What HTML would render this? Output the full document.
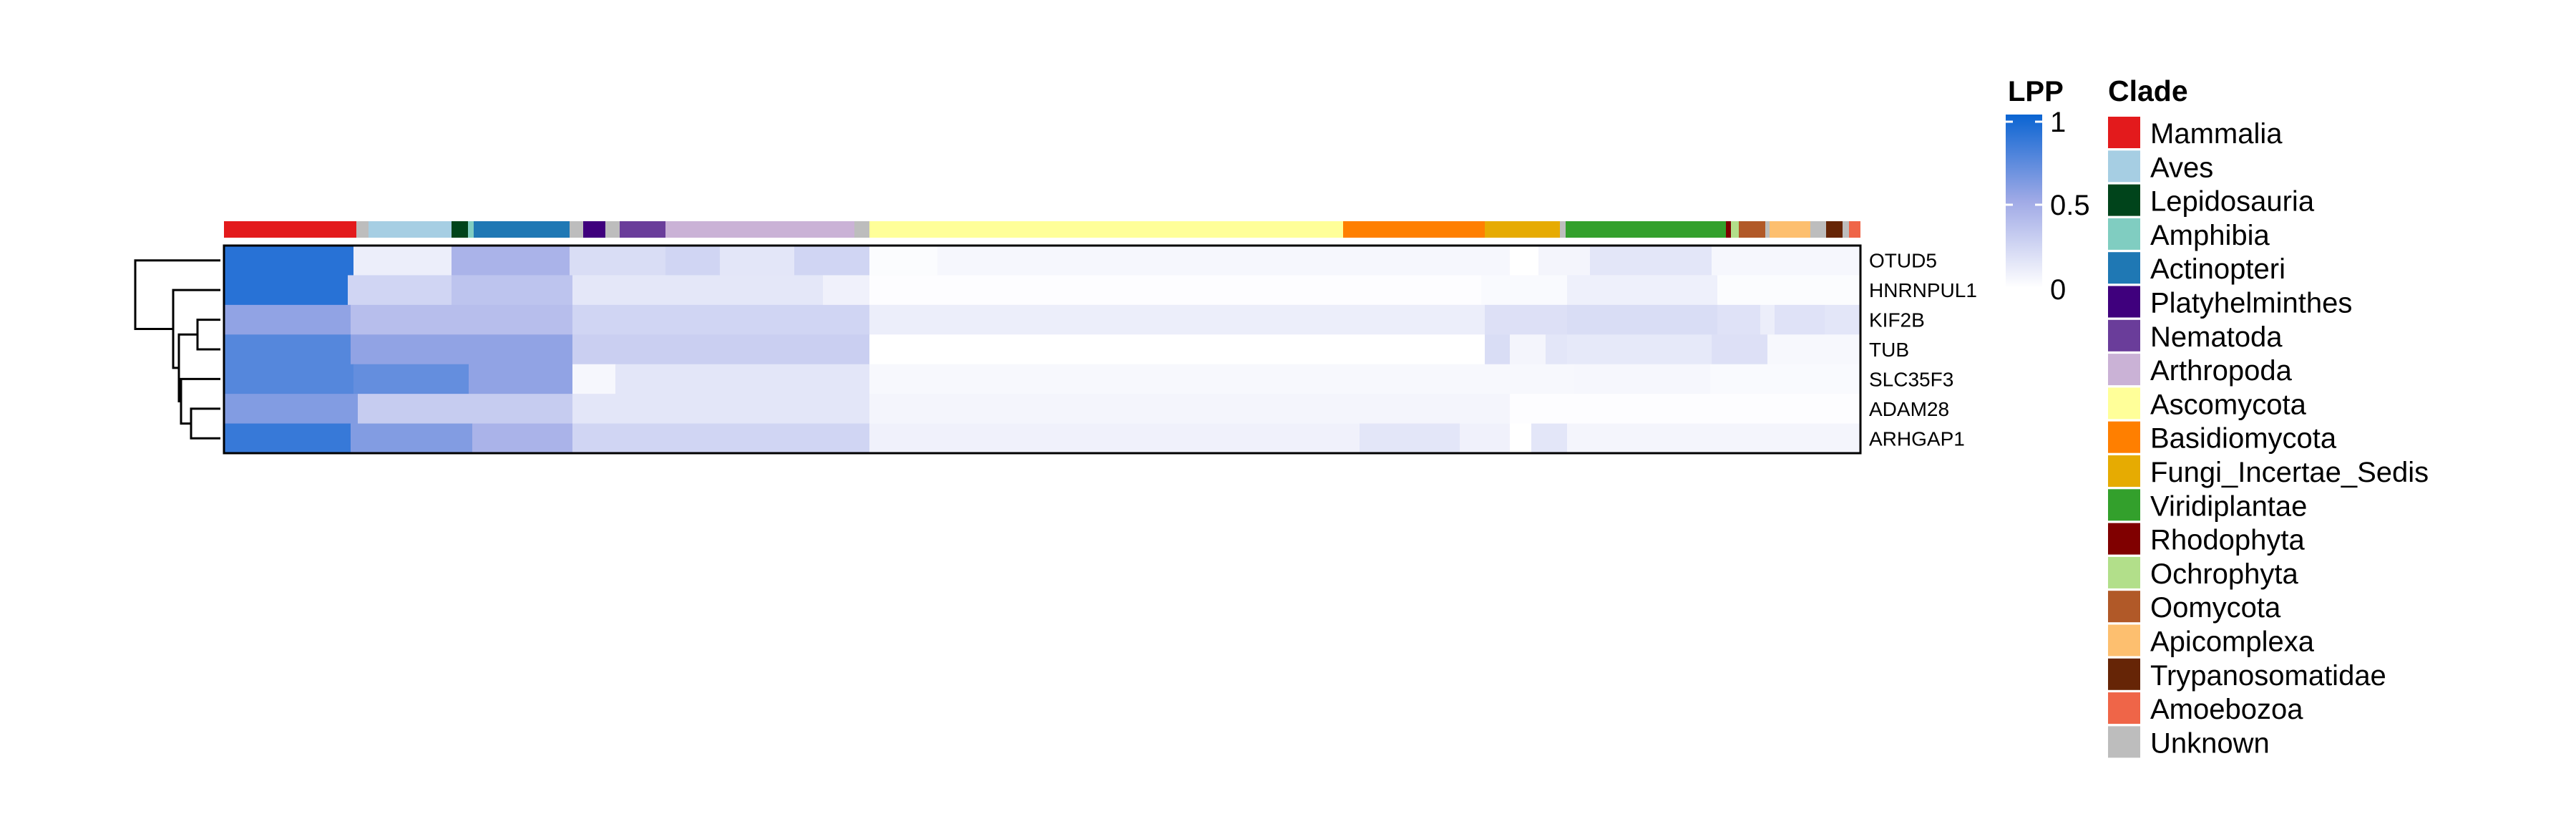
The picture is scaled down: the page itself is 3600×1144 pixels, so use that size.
<!DOCTYPE html>
<html><head><meta charset="utf-8">
<style>
html,body{margin:0;padding:0;background:#fff;}
svg{display:block;font-family:"Liberation Sans",Arial,sans-serif;}
</style></head>
<body>
<svg id="chart" width="3600" height="1144" viewBox="0 0 3600 1144" xmlns="http://www.w3.org/2000/svg">
  <g id="annot"></g>
  <g id="heat"></g>
  <rect x="313" y="343" width="2287" height="290" fill="none" stroke="#000" stroke-width="3"/>
  <g id="dendro" stroke="#000" stroke-width="3" fill="none"></g>
  <g id="rowlabels"></g>
  <g id="lpplegend">
    <defs>
      <linearGradient id="lppgrad" x1="0" y1="1" x2="0" y2="0">
        <stop offset="0" stop-color="#ffffff"/>
        <stop offset="0.5" stop-color="#a0aae6"/>
        <stop offset="1" stop-color="#0a64d2"/>
      </linearGradient>
    </defs>
    <text x="2806" y="141" font-size="40" font-weight="bold">LPP</text>
    <rect x="2803" y="160" width="51" height="242" fill="url(#lppgrad)"/>
    <g stroke="#fff" stroke-width="3">
      <line x1="2803" y1="170" x2="2813" y2="170"/><line x1="2844" y1="170" x2="2854" y2="170"/>
      <line x1="2803" y1="286" x2="2813" y2="286"/><line x1="2844" y1="286" x2="2854" y2="286"/>
    </g>
    <text x="2865" y="184" font-size="40">1</text>
    <text x="2865" y="300" font-size="40">0.5</text>
    <text x="2865" y="418" font-size="40">0</text>
  </g>
  <g id="cladelegend">
    <text x="2946" y="141" font-size="41" font-weight="bold">Clade</text>
  </g>
</svg>
<script>
const NS = "http://www.w3.org/2000/svg";
// ---- data ----
const cladeNames = ["Mammalia","Aves","Lepidosauria","Amphibia","Actinopteri","Platyhelminthes","Nematoda","Arthropoda","Ascomycota","Basidiomycota","Fungi_Incertae_Sedis","Viridiplantae","Rhodophyta","Ochrophyta","Oomycota","Apicomplexa","Trypanosomatidae","Amoebozoa","Unknown"];
const cladeColors = ["#e31a1c","#a6cee3","#00441b","#80cdc1","#1f78b4","#3f007d","#6a3d9a","#cab2d6","#ffff99","#ff7f00","#e6ab02","#33a02c","#800000","#b2df8a","#b15928","#fdbf6f","#662506","#ef6548","#bdbdbd"];
const sampleClades = ["Mammalia","Unknown","Aves","Lepidosauria","Amphibia","Actinopteri","Unknown","Platyhelminthes","Unknown","Nematoda","Arthropoda","Unknown","Ascomycota","Basidiomycota","Fungi_Incertae_Sedis","Unknown","Viridiplantae","Rhodophyta","Ochrophyta","Oomycota","Unknown","Apicomplexa","Unknown","Trypanosomatidae","Unknown","Amoebozoa"];
const sampleCounts = [185,17,116,23,8,134,19,31,20,64,264,21,662,198,105,8,224,7,11,37,6,57,22,23,9,16];
const genes = ["OTUD5","HNRNPUL1","KIF2B","TUB","SLC35F3","ADAM28","ARHGAP1"];
// run-length LPP values per gene: counts of samples and their LPP
const otud5Counts = [181,137,165,134,76,104,105,95,800,40,72,170,208];
const otud5Vals   = [0.9,0.1,0.45,0.2,0.25,0.15,0.25,0.02,0.05,0,0.06,0.15,0.05];
const hnrnpul1Counts = [173,145,169,350,65,855,120,210,200];
const hnrnpul1Vals   = [0.9,0.25,0.35,0.14,0.08,0.01,0.03,0.09,0.02];
const kif2bCounts = [177,310,415,860,115,210,60,20,70,50];
const kif2bVals   = [0.55,0.38,0.25,0.1,0.18,0.2,0.17,0.1,0.17,0.15];
const tubCounts = [177,310,415,860,35,50,30,202,78,130];
const tubVals   = [0.75,0.55,0.28,0,0.2,0.06,0.15,0.13,0.18,0.04];
const slc35f3Counts = [181,161,145,60,355,985,190,210];
const slc35f3Vals   = [0.75,0.7,0.55,0.05,0.15,0.04,0.05,0.03];
const adam28Counts = [187,300,415,895,490];
const adam28Vals   = [0.6,0.3,0.15,0.06,0.01];
const arhgap1Counts = [177,170,140,415,685,140,70,30,50,410];
const arhgap1Vals   = [0.85,0.6,0.45,0.25,0.08,0.15,0.08,0,0.15,0.06];

const rowCounts = [otud5Counts,hnrnpul1Counts,kif2bCounts,tubCounts,slc35f3Counts,adam28Counts,arhgap1Counts];
const rowVals = [otud5Vals,hnrnpul1Vals,kif2bVals,tubVals,slc35f3Vals,adam28Vals,arhgap1Vals];

// ---- scales ----
const X0 = 313, X1 = 2600, Y0 = 343, Y1 = 633;
const totalN = sampleCounts.reduce((a,b)=>a+b,0);
const xs = i => X0 + (X1 - X0) * i / totalN;
const rowH = (Y1 - Y0) / genes.length;
const ys = r => Y0 + r * rowH;
function color(v){
  let a,b,t;
  if (v <= 0.5){ a=[255,255,255]; b=[160,170,230]; t=v/0.5; }
  else { a=[160,170,230]; b=[10,100,210]; t=(v-0.5)/0.5; }
  const c = a.map((x,k)=>Math.round(x+(b[k]-x)*t));
  return `rgb(${c[0]},${c[1]},${c[2]})`;
}

// annotation
const annot = document.getElementById('annot');
let acc = 0;
sampleClades.forEach((cl,i)=>{
  const r = document.createElementNS(NS,'rect');
  
  
  r.setAttribute('x', xs(acc)); r.setAttribute('width', xs(acc+sampleCounts[i]) - xs(acc));
  r.setAttribute('y', 309); r.setAttribute('height', 23);
  r.setAttribute('fill', cladeColors[cladeNames.indexOf(cl)]);
  annot.appendChild(r);
  acc += sampleCounts[i];
});

// heatmap
const heat = document.getElementById('heat');
rowCounts.forEach((cnts,r)=>{
  let s = 0;
  cnts.forEach((c,j)=>{
    const rc = document.createElementNS(NS,'rect');
    
    
    rc.setAttribute('x', xs(s)); rc.setAttribute('width', xs(s+c)-xs(s)+0.5);
    rc.setAttribute('y', ys(r)); rc.setAttribute('height', rowH+0.5);
    rc.setAttribute('fill', color(rowVals[r][j]));
    heat.appendChild(rc);
    s += c;
  });
});

// row labels
const rl = document.getElementById('rowlabels');
genes.forEach((g,r)=>{
  const t = document.createElementNS(NS,'text');
  
  
  t.setAttribute('x', 2612); t.setAttribute('y', ys(r)+rowH/2+10);
  t.setAttribute('font-size', 28);
  t.textContent = g;
  rl.appendChild(t);
});

// dendrogram
const dendro = document.getElementById('dendro');
const leafY = r => ys(r)+rowH/2;
const LX = 308;
const nodeA = {x:276, y:(leafY(2)+leafY(3))/2};
const nodeB = {x:267, y:(leafY(5)+leafY(6))/2};
const nodeC = {x:253, y:(leafY(4)+nodeB.y)/2};
const nodeD = {x:250, y:(nodeA.y+nodeC.y)/2};
const nodeE = {x:242, y:(leafY(1)+nodeD.y)/2};
const root = {x:189, y:(leafY(0)+nodeE.y)/2};
function link(px, y1, y2, c1x, c2x){
  const p = document.createElementNS(NS,'path');
  
  
  p.setAttribute('d', `M${c1x},${y1} H${px} V${y2} H${c2x}`);
  dendro.appendChild(p);
}
link(nodeA.x, leafY(2), leafY(3), LX, LX);
link(nodeB.x, leafY(5), leafY(6), LX, LX);
link(nodeC.x, leafY(4), nodeB.y, LX, nodeB.x);
link(nodeD.x, nodeA.y, nodeC.y, nodeA.x, nodeC.x);
link(nodeE.x, leafY(1), nodeD.y, LX, nodeD.x);
link(root.x, leafY(0), nodeE.y, LX, nodeE.x);

// clade legend
const cleg = document.getElementById('cladelegend');
cladeNames.forEach((n,i)=>{
  const y = 163 + i*47.3;
  const r = document.createElementNS(NS,'rect');
  
  
  r.setAttribute('x', 2946); r.setAttribute('y', y); r.setAttribute('width', 45); r.setAttribute('height', 44);
  r.setAttribute('fill', cladeColors[i]);
  cleg.appendChild(r);
  const t = document.createElementNS(NS,'text');
  
  
  t.setAttribute('x', 3005); t.setAttribute('y', y+37); t.setAttribute('font-size', 40);
  t.textContent = n;
  cleg.appendChild(t);
});
</script>
</body></html>
